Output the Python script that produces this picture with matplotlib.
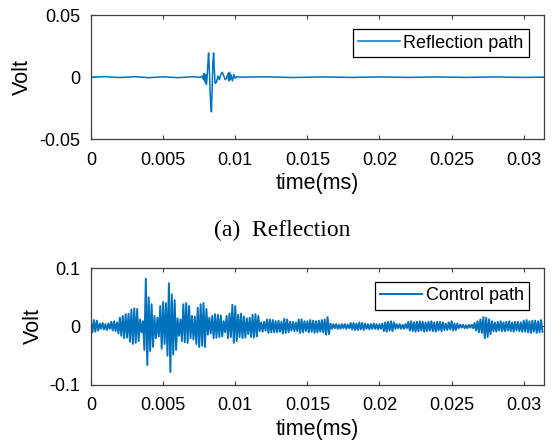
import numpy as np
import matplotlib
matplotlib.use('Agg')
import matplotlib.pyplot as plt

# reflection path: quiet trace with a short burst near 0.008 ms
refl_time = [0.0, 0.001, 0.002, 0.003, 0.004, 0.005, 0.006, 0.007, 0.0076,
             0.0077, 0.0078, 0.00785, 0.0079, 0.00795, 0.008, 0.00805, 0.0081,
             0.00815, 0.0082, 0.00825, 0.0083, 0.00835, 0.0084, 0.00845, 0.0085,
             0.00855, 0.0086, 0.0087, 0.0088, 0.0089, 0.009, 0.0091, 0.0092,
             0.0093, 0.0094, 0.0095, 0.00955, 0.0096, 0.00965, 0.0097, 0.0098,
             0.0099, 0.01, 0.0101, 0.0103, 0.012, 0.014, 0.016, 0.018, 0.02,
             0.022, 0.024, 0.026, 0.028, 0.03, 0.0314]
refl_volt = [0.0, 0.0004, -0.0003, 0.0004, -0.0004, 0.0003, -0.0004, 0.0003, 0.0,
             0.001, -0.002, 0.003, -0.004, 0.002, -0.006, 0.0, 0.010,
             0.0195, 0.008, -0.010, -0.022, -0.028, -0.008, 0.012, 0.0195,
             0.006, -0.005, -0.004, 0.001, -0.002, 0.002, 0.004, 0.001,
             -0.002, -0.001, 0.003, -0.003, 0.004, -0.002, 0.002, -0.003,
             0.002, -0.001, 0.0005, 0.0, 0.0003, -0.0003, 0.0002, -0.0002, 0.0002,
             -0.0002, 0.0002, -0.0002, 0.0002, -0.0002, 0.0]

# control path samples in mV, one every 0.0001 ms
ctrl_mv = [8, -10, 11, -9, 10, -7,
           5, -4, 6, -5, 4, -6, 5, -4,
           8, -7, 9, -8, 7,
           -12, 15, -16, 18, -20, 21, -19, 22,
           -26, 29, -30, 31, -28, 30, -25,
           12, -10, 9,
           -40, 82, -66, 50,
           -42, 38, -35,
           18, -20, 15, -17,
           35, -38, 42, -30, 40,
           -50, 74, -78,
           55, -48, 45, -40,
           14, -16, 12,
           -25, 38, -27, 40, -28, 35,
           -20, 18, -22, 17,
           -30, 32, -35, 38, -33, 40, -35, 30,
           -14, 15, -12,
           18, -20, 21, -19, 20, -18, 19, -17,
           9, -10,
           18, -20, 22, -18,
           37, -28, 35, -25,
           20, -18, 22, -20, 17, -19,
           14, -13, 15,
           -18, 20, -19, 21, -17, 18,
           -8, 7, -9, 8, -7, 12, -11, 12, -10,
           11, -10, 9, -10, 10, -9, 8,
           -12, 13, -11, 12, -10,
           8, -7, 8, -8, 7, -8, 12,
           -11, 12, -10, 9, -8,
           9, -10, 11, -9, 10, -11, 9, -10, 10, -9, 11, -10, 12, -14, 16, -13,
           5, -4, 4, -3, 4, -4, 3, -4, 4, -3, 4, -4, 3, -3,
           6, -5, 6, -6, 5, -6, 7, -5, 6, -6, 5, -4, 4, -5, 4,
           -4, 5, -4, 4, -5, 4, -4, 5,
           -8, 7, -9, 8, -7, 9, -8, 7,
           -4, 4, -3, 4, -4, 3, -4, 4, -3,
           8, -7, 9, -8, 7, -9, 8, -8, 9, -7, 8, -9, 7, -8, 8,
           -7, 9, -8, 7, -9, 8, -7, 8, -8, 7,
           -6, 5, -6, 7, -5, 9, -7, 5, -6, 5,
           -3, 3, -2, 3, -3, 2, -3, 3, -2, 3, -3,
           6, -7, 9, -10, 12, -11,
           16, -20, 15, -18, 12, -13,
           9, -8, 7, -9, 8, -7, 9, -8, 7, -8, 8, -7, 9, -8, 7, -9, 8, -7, 8, -8, 7, -9,
           10, -9, 11, -10, 9, -11, 10, -9, 10, -11, 9, -10, 11, -9]
ctrl_step = 0.0001

x_ticks = [0, 0.005, 0.01, 0.015, 0.02, 0.025, 0.03]
x_labels = ['0', '0.005', '0.01', '0.015', '0.02', '0.025', '0.03']
top_yticks = [-0.05, 0, 0.05]
top_ylabels = ['-0.05', '0', '0.05']
bot_yticks = [-0.1, 0, 0.1]
bot_ylabels = ['-0.1', '0', '0.1']

plt.rcParams['font.family'] = ['Liberation Sans', 'DejaVu Sans']
line_col = '#0072BD'
ax_col = '#404040'

fig = plt.figure(figsize=(5.55, 4.46), dpi=100)
ax1 = fig.add_axes([0.164, 0.688, 0.816, 0.278])
ax2 = fig.add_axes([0.164, 0.137, 0.816, 0.262])

ctrl_time = np.arange(len(ctrl_mv)) * ctrl_step
ctrl_volt = np.array(ctrl_mv) / 1000.0

ax1.plot(refl_time, refl_volt, color=line_col, lw=1.1, label='Reflection path')
ax2.plot(ctrl_time, ctrl_volt, color=line_col, lw=1.4, label='Control path')

for ax, yt, yl, lim in [(ax1, top_yticks, top_ylabels, 0.05), (ax2, bot_yticks, bot_ylabels, 0.1)]:
    ax.set_xlim(0, 0.0314)
    ax.set_ylim(-lim, lim)
    ax.set_xticks(x_ticks)
    ax.set_xticklabels(x_labels)
    ax.set_yticks(yt)
    ax.set_yticklabels(yl)
    ax.tick_params(direction='in', top=True, right=True, length=3, width=0.8,
                   colors=ax_col, labelcolor='black', labelsize=13)
    ax.tick_params(axis='x', pad=9)
    ax.tick_params(axis='y', pad=8)
    for s in ax.spines.values():
        s.set_color(ax_col)
        s.set_linewidth(0.9)
    ax.set_xlabel('time(ms)', fontsize=15.5, labelpad=3)
    ax.set_ylabel('Volt', fontsize=15.5, labelpad=4)

leg_kw = dict(loc='upper right', fontsize=13, frameon=True, fancybox=False,
              edgecolor='black', framealpha=1, borderaxespad=0, borderpad=0.3,
              handlelength=2.3, handletextpad=0.2)
l1 = ax1.legend(bbox_to_anchor=(0.967, 0.887), **leg_kw)
l2 = ax2.legend(bbox_to_anchor=(0.967, 0.880), **leg_kw)
for lg in (l1, l2):
    lg.get_frame().set_linewidth(0.9)

fig.text(0.508, 0.484, '(a)  Reflection', ha='center', va='center',
         fontsize=17, family='Liberation Serif')

fig.savefig('out.png', dpi=100)
